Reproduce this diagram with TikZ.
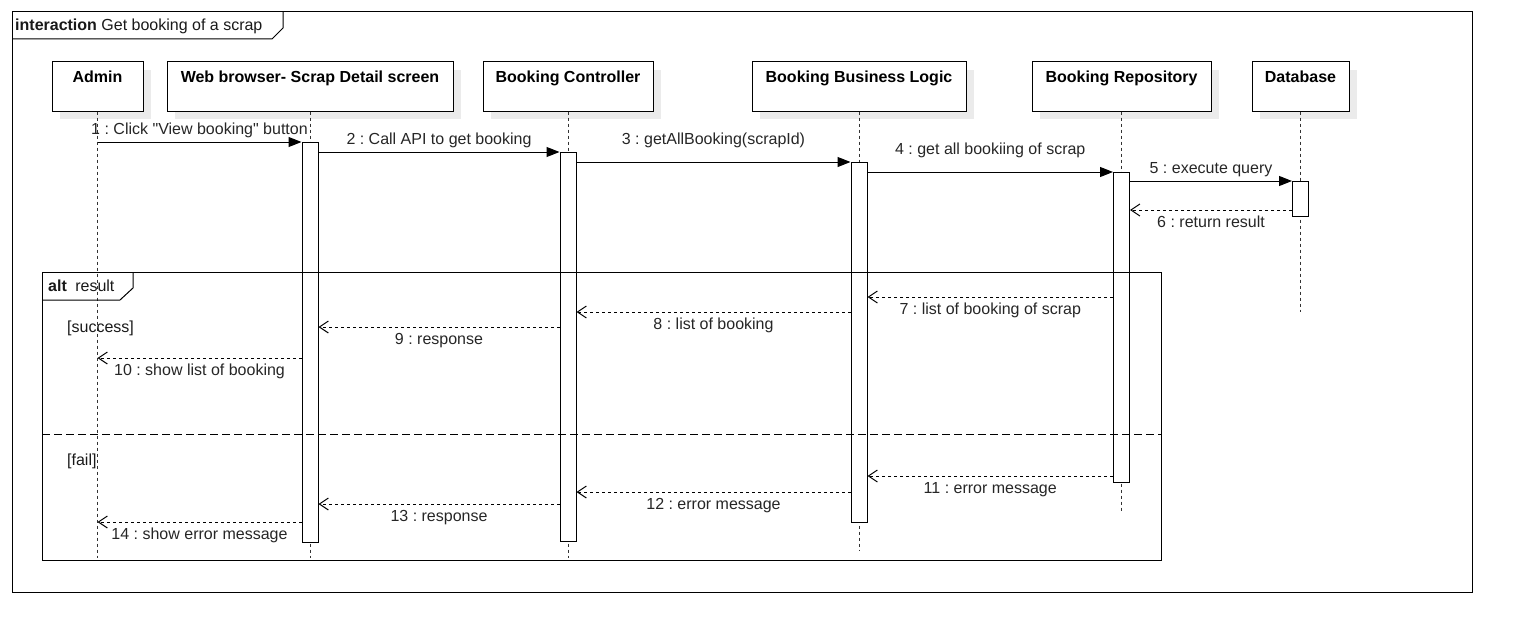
\documentclass[tikz,border=0pt]{standalone}
\usepackage{fontspec}
\setmainfont{Liberation Sans}[Ligatures=TeXOff]
\usetikzlibrary{arrows.meta,shadows}
\frenchspacing

\tikzset{
  head/.style={draw, line width=1pt, fill=white, inner sep=0pt, text height=20pt, text depth=29pt,
    font=\fontsize{16}{19}\selectfont\bfseries,
    general shadow={fill=black!8, shadow xshift=8pt, shadow yshift=-8pt}},
  life/.style={black!80, line width=1pt, dash pattern=on 3pt off 3pt},
  bar/.style={draw, line width=1pt, fill=white, minimum width=16pt, inner sep=0pt, anchor=north},
  call/.style={line width=1pt, -{Triangle[length=13pt,width=10pt]}},
  reply/.style={line width=1pt, dash pattern=on 3pt off 3pt, -{Straight Barb[length=9pt,width=12pt]}},
  lblup/.style={midway, anchor=base, yshift=8pt, inner sep=0pt, text=black!85},
  lblhi/.style={midway, anchor=base, yshift=18pt, inner sep=0pt, text=black!85},
  lbldown/.style={midway, anchor=base, yshift=-17pt, inner sep=0pt, text=black!85},
  frametext/.style={anchor=base west, inner sep=0pt, text=black!90}
}

\begin{document}
\begin{tikzpicture}[x=1pt, y=-1pt, font=\fontsize{16}{19}\selectfont]
    \useasboundingbox (0,0) rectangle (1522,642);
    %outer interaction frame
    \draw[line width=1pt] (12,12) rectangle (1472,592);
    \draw[line width=1pt] (12,39) -- (272,39) -- (283,28) -- (283,12);
    \node[frametext] (frametitle) at (15,31) {\textbf{interaction} Get booking of a scrap};

    %lifeline heads
    \node[head, minimum width=91pt, minimum height=49pt] (admin) at (97.5,86.5) {Admin};
    \node[head, minimum width=286pt, minimum height=49pt] (web) at (310,86.5) {Web browser- Scrap Detail screen};
    \node[head, minimum width=170pt, minimum height=49pt] (ctrl) at (568,86.5) {Booking Controller};
    \node[head, minimum width=214pt, minimum height=49pt] (logic) at (859,86.5) {Booking Business Logic};
    \node[head, minimum width=179pt, minimum height=49pt] (repo) at (1121.5,86.5) {Booking Repository};
    \node[head, minimum width=97pt, minimum height=49pt] (db) at (1300.5,86.5) {Database};

    %dashed lifelines
    \draw[life] (admin.south) -- (admin.south |- 0,558);
    \draw[life] (web.south) -- (web.south |- 0,558);
    \draw[life] (ctrl.south) -- (ctrl.south |- 0,558);
    \draw[life] (logic.south) -- (logic.south |- 0,550);
    \draw[life] (repo.south) -- (repo.south |- 0,513);
    \draw[life] (db.south) -- (db.south |- 0,312);

    %activation bars
    \node[bar, minimum height=400pt] (webbar) at (web.south |- 0,142) {};
    \node[bar, minimum height=389pt] (ctrlbar) at (ctrl.south |- 0,152) {};
    \node[bar, minimum height=360pt] (logicbar) at (logic.south |- 0,162) {};
    \node[bar, minimum height=310pt] (repobar) at (repo.south |- 0,172) {};
    \node[bar, minimum height=35pt] (dbbar) at (db.south |- 0,181) {};

    %calls
    \draw[call] (admin.south |- 0,142) -- (webbar.north west) node[lblup] {1 : Click "View booking" button};
    \draw[call] (webbar.east |- 0,152) -- (ctrlbar.north west) node[lblup] {2 : Call API to get booking};
    \draw[call] (ctrlbar.east |- 0,162) -- (logicbar.north west) node[lblhi] {3 : getAllBooking(scrapId)};
    \draw[call] (logicbar.east |- 0,172) -- (repobar.north west) node[lblhi] {4 : get all bookiing of scrap};
    \draw[call] (repobar.east |- 0,181) -- (dbbar.north west) node[lblup] {5 : execute query};
    \draw[reply] (dbbar.west |- 0,210) -- (repobar.east |- 0,210) node[lbldown] {6 : return result};

    %alt fragment
    \draw[line width=1pt] (42,272) rectangle (1161,560);
    \draw[line width=1pt] (42,300) -- (120,300) -- (133,288) -- (133,272);
    \node[frametext] (alttitle) at (48,291) {\textbf{alt}\hspace{4pt} result};
    \node[frametext] (guardok) at (67,332) {[success]};
    \draw[reply] (repobar.west |- 0,297) -- (logicbar.east |- 0,297) node[lbldown] {7 : list of booking of scrap};
    \draw[reply] (logicbar.west |- 0,312) -- (ctrlbar.east |- 0,312) node[lbldown] {8 : list of booking};
    \draw[reply] (ctrlbar.west |- 0,327) -- (webbar.east |- 0,327) node[lbldown] {9 : response};
    \draw[reply] (webbar.west |- 0,358) -- (admin.south |- 0,358) node[lbldown] {10 : show list of booking};

    \draw[line width=1pt, dash pattern=on 8pt off 4pt] (42,434) -- (1161,434);
    \node[frametext] (guardfail) at (67,465) {[fail]};
    \draw[reply] (repobar.west |- 0,476) -- (logicbar.east |- 0,476) node[lbldown] {11 : error message};
    \draw[reply] (logicbar.west |- 0,492) -- (ctrlbar.east |- 0,492) node[lbldown] {12 : error message};
    \draw[reply] (ctrlbar.west |- 0,504) -- (webbar.east |- 0,504) node[lbldown] {13 : response};
    \draw[reply] (webbar.west |- 0,522) -- (admin.south |- 0,522) node[lbldown] {14 : show error message};
\end{tikzpicture}
\end{document}
